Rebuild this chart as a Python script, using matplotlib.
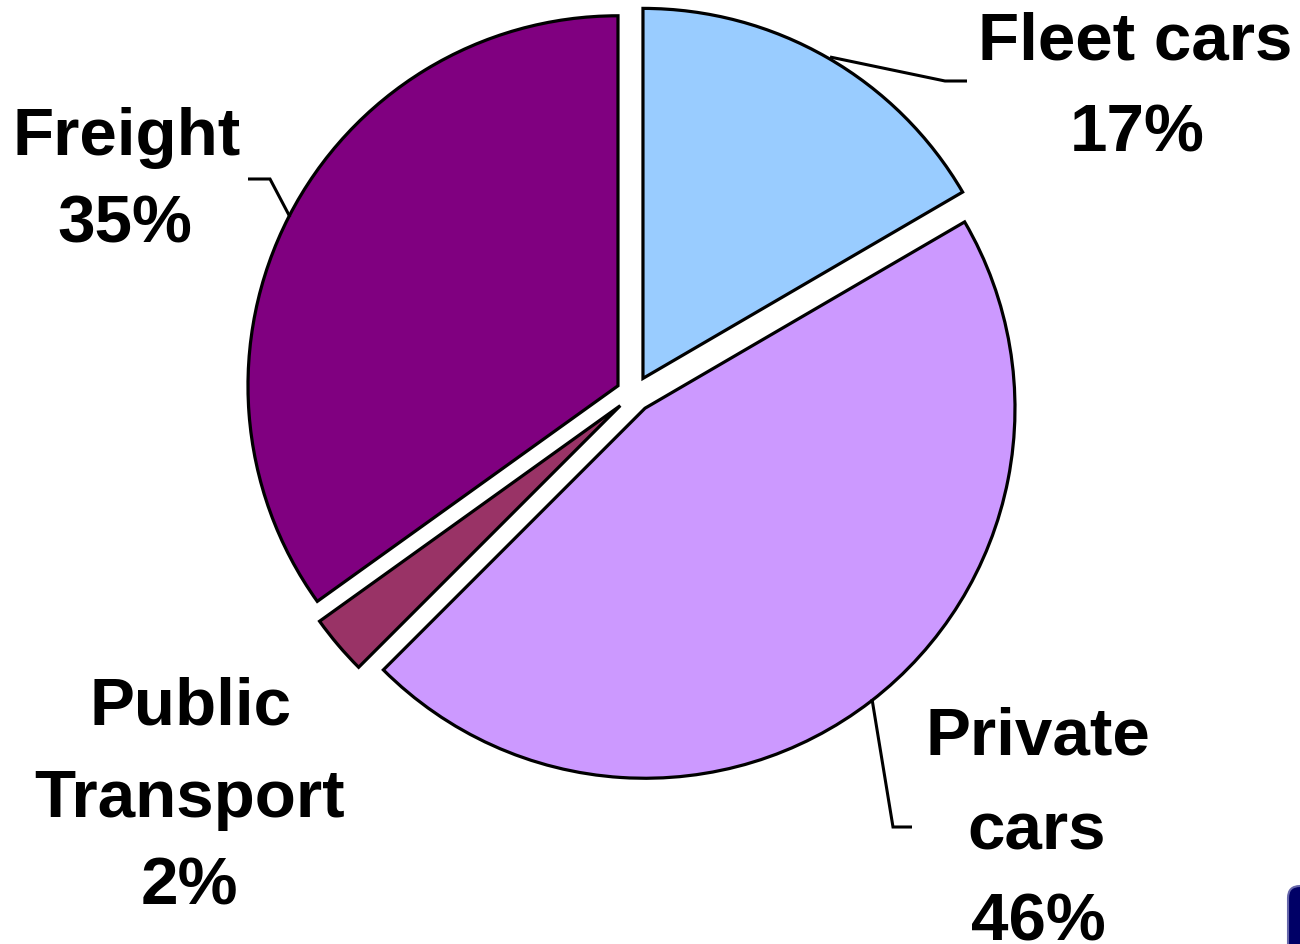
import matplotlib
matplotlib.use("Agg")
import matplotlib.pyplot as plt
from matplotlib.patches import FancyBboxPatch

categories = ["Fleet cars", "Private cars", "Public Transport", "Freight"]
shares = [16.6, 45.9, 2.6, 34.9]
colors = ["#99CCFF", "#CC99FF", "#993366", "#800080"]
label_lines = [["Fleet cars", "17%"], ["Private", "cars", "46%"],
               ["Public", "Transport", "2%"], ["Freight", "35%"]]

W, H = 1300, 945
fig = plt.figure(figsize=(W / 100, H / 100), dpi=100)
ax = fig.add_axes([0, 0, 1, 1])

cx, cy, R = 634, H - 395, 370
ax.pie(shares, colors=colors, startangle=90, counterclock=False,
       explode=[18] * len(shares), radius=R, center=(cx, cy),
       wedgeprops=dict(edgecolor="black", linewidth=2.3), frame=True)

ax.set_xlim(0, W)
ax.set_ylim(0, H)
ax.set_aspect("auto")
ax.axis("off")

font = dict(family=["Liberation Sans", "DejaVu Sans"], fontweight="bold",
            fontsize=48.5, color="black", ha="center", va="baseline")

# label line (centre x, baseline y) in pixel coords from top
label_pos = [
    [(1135, 60), (1137, 152)],
    [(1038, 755), (1037, 850), (1038, 941)],
    [(191, 725), (190, 817), (189, 905)],
    [(127, 155), (125, 243)],
]
for lines, poss in zip(label_lines, label_pos):
    for t, (x, y) in zip(lines, poss):
        ax.text(x, H - y, t, **font)

# leader lines
leaders = [
    [(830, 58), (945, 82), (967, 82)],
    [(872, 700), (893, 828), (912, 828)],
    [(290, 218), (270, 180), (248, 180)],
]
for pts in leaders:
    ax.plot([p[0] for p in pts], [H - p[1] for p in pts], color="black",
            lw=2.2, solid_capstyle="butt", solid_joinstyle="miter")

# decorative corner shape bottom-right
ax.add_patch(FancyBboxPatch((1288, -60), 80, H - 887 + 60,
                            boxstyle="round,pad=0,rounding_size=12",
                            facecolor="#000066", edgecolor="#6666aa", lw=1.5,
                            clip_on=True))

fig.savefig("out.png", dpi=100)
